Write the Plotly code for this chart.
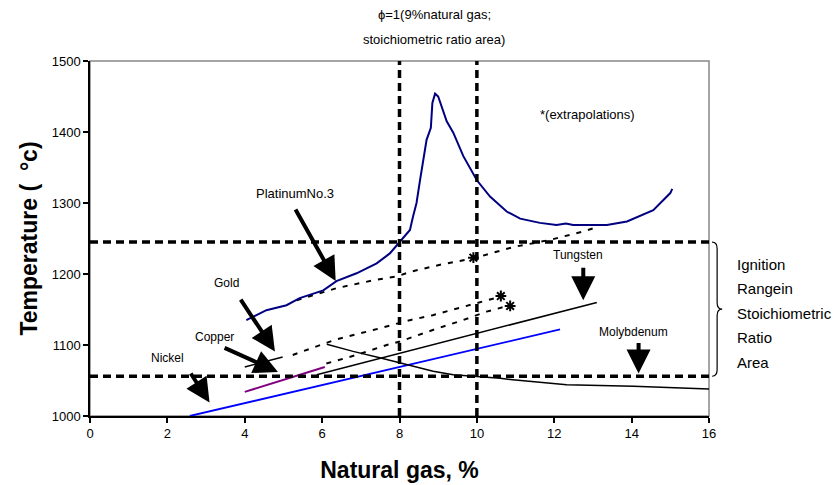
import plotly.graph_objects as go

FONT = "Liberation Sans, Arial, sans-serif"

# ---------------- data ----------------
# Platinum No.3 (measured, navy)
plat_x = [4.04, 4.56, 5.08, 5.42, 6.03, 6.37, 6.89, 7.41, 7.75, 8.01, 8.27, 8.35, 8.44, 8.53,
          8.57, 8.70, 8.81, 8.85, 8.92, 9.00, 9.22, 9.39, 9.65, 10.0, 10.34, 10.77, 11.12,
          11.63, 12.06, 12.3, 12.49, 13.36, 13.88, 14.56, 15.0, 15.05]
plat_y = [1135, 1149, 1156, 1166, 1177, 1190, 1201, 1215, 1229, 1245, 1262, 1281, 1300, 1332,
          1346, 1389, 1406, 1441, 1454, 1450, 1415, 1399, 1366, 1332, 1309, 1288, 1278,
          1272, 1269, 1271, 1269, 1269, 1274, 1290, 1314, 1320]
# Platinum extrapolation (dotted)
plat_ext_x = [5.34, 6.37, 7.32, 7.70, 7.96, 8.27, 9.05, 9.91, 10.94, 11.89, 12.75, 13.1]
plat_ext_y = [1163, 1180, 1191, 1194, 1197, 1203, 1213, 1222, 1238, 1248, 1260, 1266]
# Gold (short solid part + dotted extrapolation)
gold_x = [4.0, 4.98]
gold_y = [1069, 1083]
gold_ext_x = [5.24, 6.37, 7.32, 8.27, 8.86, 9.82, 10.6]
gold_ext_y = [1086, 1108, 1121, 1135, 1142, 1156, 1168]
# Copper (purple solid + dotted extrapolation)
copper_x = [4.0, 6.07]
copper_y = [1034, 1069]
copper_ext_x = [6.11, 6.46, 6.89, 7.67, 8.01, 8.96, 9.64, 10.25, 10.86]
copper_ext_y = [1074, 1079, 1086, 1100, 1105, 1123, 1135, 1147, 1156]
# Tungsten
tung_x = [5.86, 13.1]
tung_y = [1058, 1160]
# Nickel
nickel_x = [2.58, 12.15]
nickel_y = [1000, 1122]
# Molybdenum
moly_x = [6.12, 6.80, 7.49, 8.18, 8.87, 9.39, 10.0, 10.6, 10.93, 12.32, 14.05, 15.69, 16.0]
moly_y = [1101, 1091, 1082, 1072, 1063, 1058, 1056, 1053, 1051, 1044, 1042, 1039, 1038]
# extrapolation end markers (*)
star_x = [9.91, 10.62, 10.86]
star_y = [1223, 1169, 1155]

# reference lines
ignition_range = [1056, 1245]     # horizontal dashed lines
stoich_range = [8, 10]            # vertical dashed lines

# labels with arrows
arrow_labels = ["PlatinumNo.3", "Gold", "Copper", "Nickel", "Tungsten", "Molybdenum"]
label_x = [5.29, 3.53, 3.22, 2.01, 12.61, 14.04]
label_y = [1314, 1187, 1111, 1082, 1227, 1118]
label_size = [13, 12, 12, 12, 12, 12]
tail_x = [5.29, 3.87, 3.44, 2.58, 12.75, 14.18]
tail_y = [1293, 1166, 1097, 1062, 1211, 1105]
head_x = [6.35, 4.78, 4.86, 3.09, 12.75, 14.18]
head_y = [1190, 1091, 1062, 1019, 1163, 1060]

x_ticks = [0, 2, 4, 6, 8, 10, 12, 14, 16]
y_ticks = [1000, 1100, 1200, 1300, 1400, 1500]
side_text = ["Ignition", "Rangein", "Stoichiometric", "Ratio", "Area"]
side_text_y = [1214, 1180, 1145, 1110, 1076]
top_text = ["\u03d5=1(9%natural gas;", "stoichiometric ratio area)"]
top_text_y = [1565, 1530]

X_MIN, X_MAX = 0, 16
Y_MIN, Y_MAX = 1000, 1500

# ---------------- figure ----------------
fig = go.Figure()

dot_style = dict(color="black", width=2, dash="5px,7px")

fig.add_trace(go.Scatter(x=plat_ext_x, y=plat_ext_y, mode="lines", line=dot_style))
fig.add_trace(go.Scatter(x=gold_ext_x, y=gold_ext_y, mode="lines", line=dot_style))
fig.add_trace(go.Scatter(x=copper_ext_x, y=copper_ext_y, mode="lines", line=dot_style))
fig.add_trace(go.Scatter(x=gold_x, y=gold_y, mode="lines", line=dict(color="black", width=1.5)))
fig.add_trace(go.Scatter(x=copper_x, y=copper_y, mode="lines", line=dict(color="#800080", width=2)))
fig.add_trace(go.Scatter(x=tung_x, y=tung_y, mode="lines", line=dict(color="black", width=1.5)))
fig.add_trace(go.Scatter(x=nickel_x, y=nickel_y, mode="lines", line=dict(color="#0000ff", width=1.8)))
fig.add_trace(go.Scatter(x=moly_x, y=moly_y, mode="lines", line=dict(color="black", width=1.5)))
fig.add_trace(go.Scatter(x=plat_x, y=plat_y, mode="lines", line=dict(color="#000080", width=2)))
fig.add_trace(go.Scatter(x=star_x, y=star_y, mode="markers",
                         marker=dict(symbol="asterisk-open", size=9, color="black",
                                     line=dict(color="black", width=2))))

# plot frame top/right (gray)
fig.add_shape(type="rect", xref="x domain", yref="y domain", x0=0, x1=1, y0=0, y1=1,
              line=dict(color="#888888", width=1.5), layer="below")

# dashed reference lines
for yv in ignition_range:
    fig.add_shape(type="line", xref="x", yref="y", x0=X_MIN, x1=X_MAX, y0=yv, y1=yv,
                  line=dict(color="black", width=3.5, dash="8px,5px"))
for xv in stoich_range:
    fig.add_shape(type="line", xref="x", yref="y", x0=xv, x1=xv, y0=Y_MIN, y1=Y_MAX,
                  line=dict(color="black", width=3.5, dash="8px,5px"))


def px(xv):
    return (xv - X_MIN) / (X_MAX - X_MIN)


def py(yv):
    return (yv - Y_MIN) / (Y_MAX - Y_MIN)


# right-side brace spanning the ignition range
lo, hi = ignition_range
mid = (lo + hi) / 2
xa, xb, xc = px(16.08), px(16.21), px(16.34)
r = 0.018
path = (f"M {xa},{py(hi)} Q {xb},{py(hi)} {xb},{py(hi) - r} "
        f"L {xb},{py(mid) + r} Q {xb},{py(mid)} {xc},{py(mid)} "
        f"Q {xb},{py(mid)} {xb},{py(mid) - r} "
        f"L {xb},{py(lo) + r} Q {xb},{py(lo)} {xa},{py(lo)}")
fig.add_shape(type="path", xref="paper", yref="paper", path=path,
              line=dict(color="black", width=1.2))

annotations = []
for i in range(len(arrow_labels)):
    annotations.append(dict(x=head_x[i], y=head_y[i], ax=tail_x[i], ay=tail_y[i],
                            xref="x", yref="y", axref="x", ayref="y", text="",
                            showarrow=True, arrowhead=2, arrowsize=1.2, arrowwidth=4,
                            arrowcolor="black"))
    annotations.append(dict(x=label_x[i], y=label_y[i], xref="x", yref="y",
                            text=arrow_labels[i], showarrow=False,
                            xanchor="center", yanchor="middle",
                            font=dict(family=FONT, size=label_size[i], color="black")))

annotations.append(dict(x=12.86, y=1424, xref="x", yref="y", text="*(extrapolations)",
                        showarrow=False, xanchor="center", yanchor="middle",
                        font=dict(family=FONT, size=13, color="black")))
for t, yv in zip(top_text, top_text_y):
    annotations.append(dict(x=px(8.9), y=py(yv), xref="paper", yref="paper", text=t,
                            showarrow=False, xanchor="center", yanchor="middle",
                            font=dict(family=FONT, size=13, color="black")))
for t, yv in zip(side_text, side_text_y):
    annotations.append(dict(x=px(16.68), y=py(yv), xref="paper", yref="paper", text=t,
                            xanchor="left", yanchor="middle", showarrow=False,
                            font=dict(family=FONT, size=15, color="black")))

# the page body adds an 8px offset, so the figure is 8px smaller and margins shifted
fig.update_layout(
    width=832, height=477,
    margin=dict(l=82, r=131, t=53, b=69, autoexpand=False),
    paper_bgcolor="white", plot_bgcolor="white",
    showlegend=False,
    font=dict(family=FONT, size=13, color="black"),
    annotations=annotations,
    xaxis=dict(range=[X_MIN, X_MAX], tickvals=x_ticks, ticktext=[str(v) for v in x_ticks],
               showgrid=False, zeroline=False, showline=True, linecolor="black", linewidth=1.5,
               ticks="outside", ticklen=5, tickcolor="black", tickwidth=1.5,
               tickfont=dict(family=FONT, size=13), automargin=False,
               title=dict(text="<b>Natural gas, %</b>", font=dict(family=FONT, size=23),
                          standoff=22)),
    yaxis=dict(range=[Y_MIN, Y_MAX], tickvals=y_ticks, ticktext=[str(v) for v in y_ticks],
               showgrid=False, zeroline=False, showline=True, linecolor="black", linewidth=1.5,
               ticks="outside", ticklen=5, tickcolor="black", tickwidth=1.5,
               tickfont=dict(family=FONT, size=13), automargin=False,
               title=dict(text="<b>Temperature (  \u00b0c)</b>", font=dict(family=FONT, size=23),
                          standoff=8)),
)

fig.write_html("out.html")
